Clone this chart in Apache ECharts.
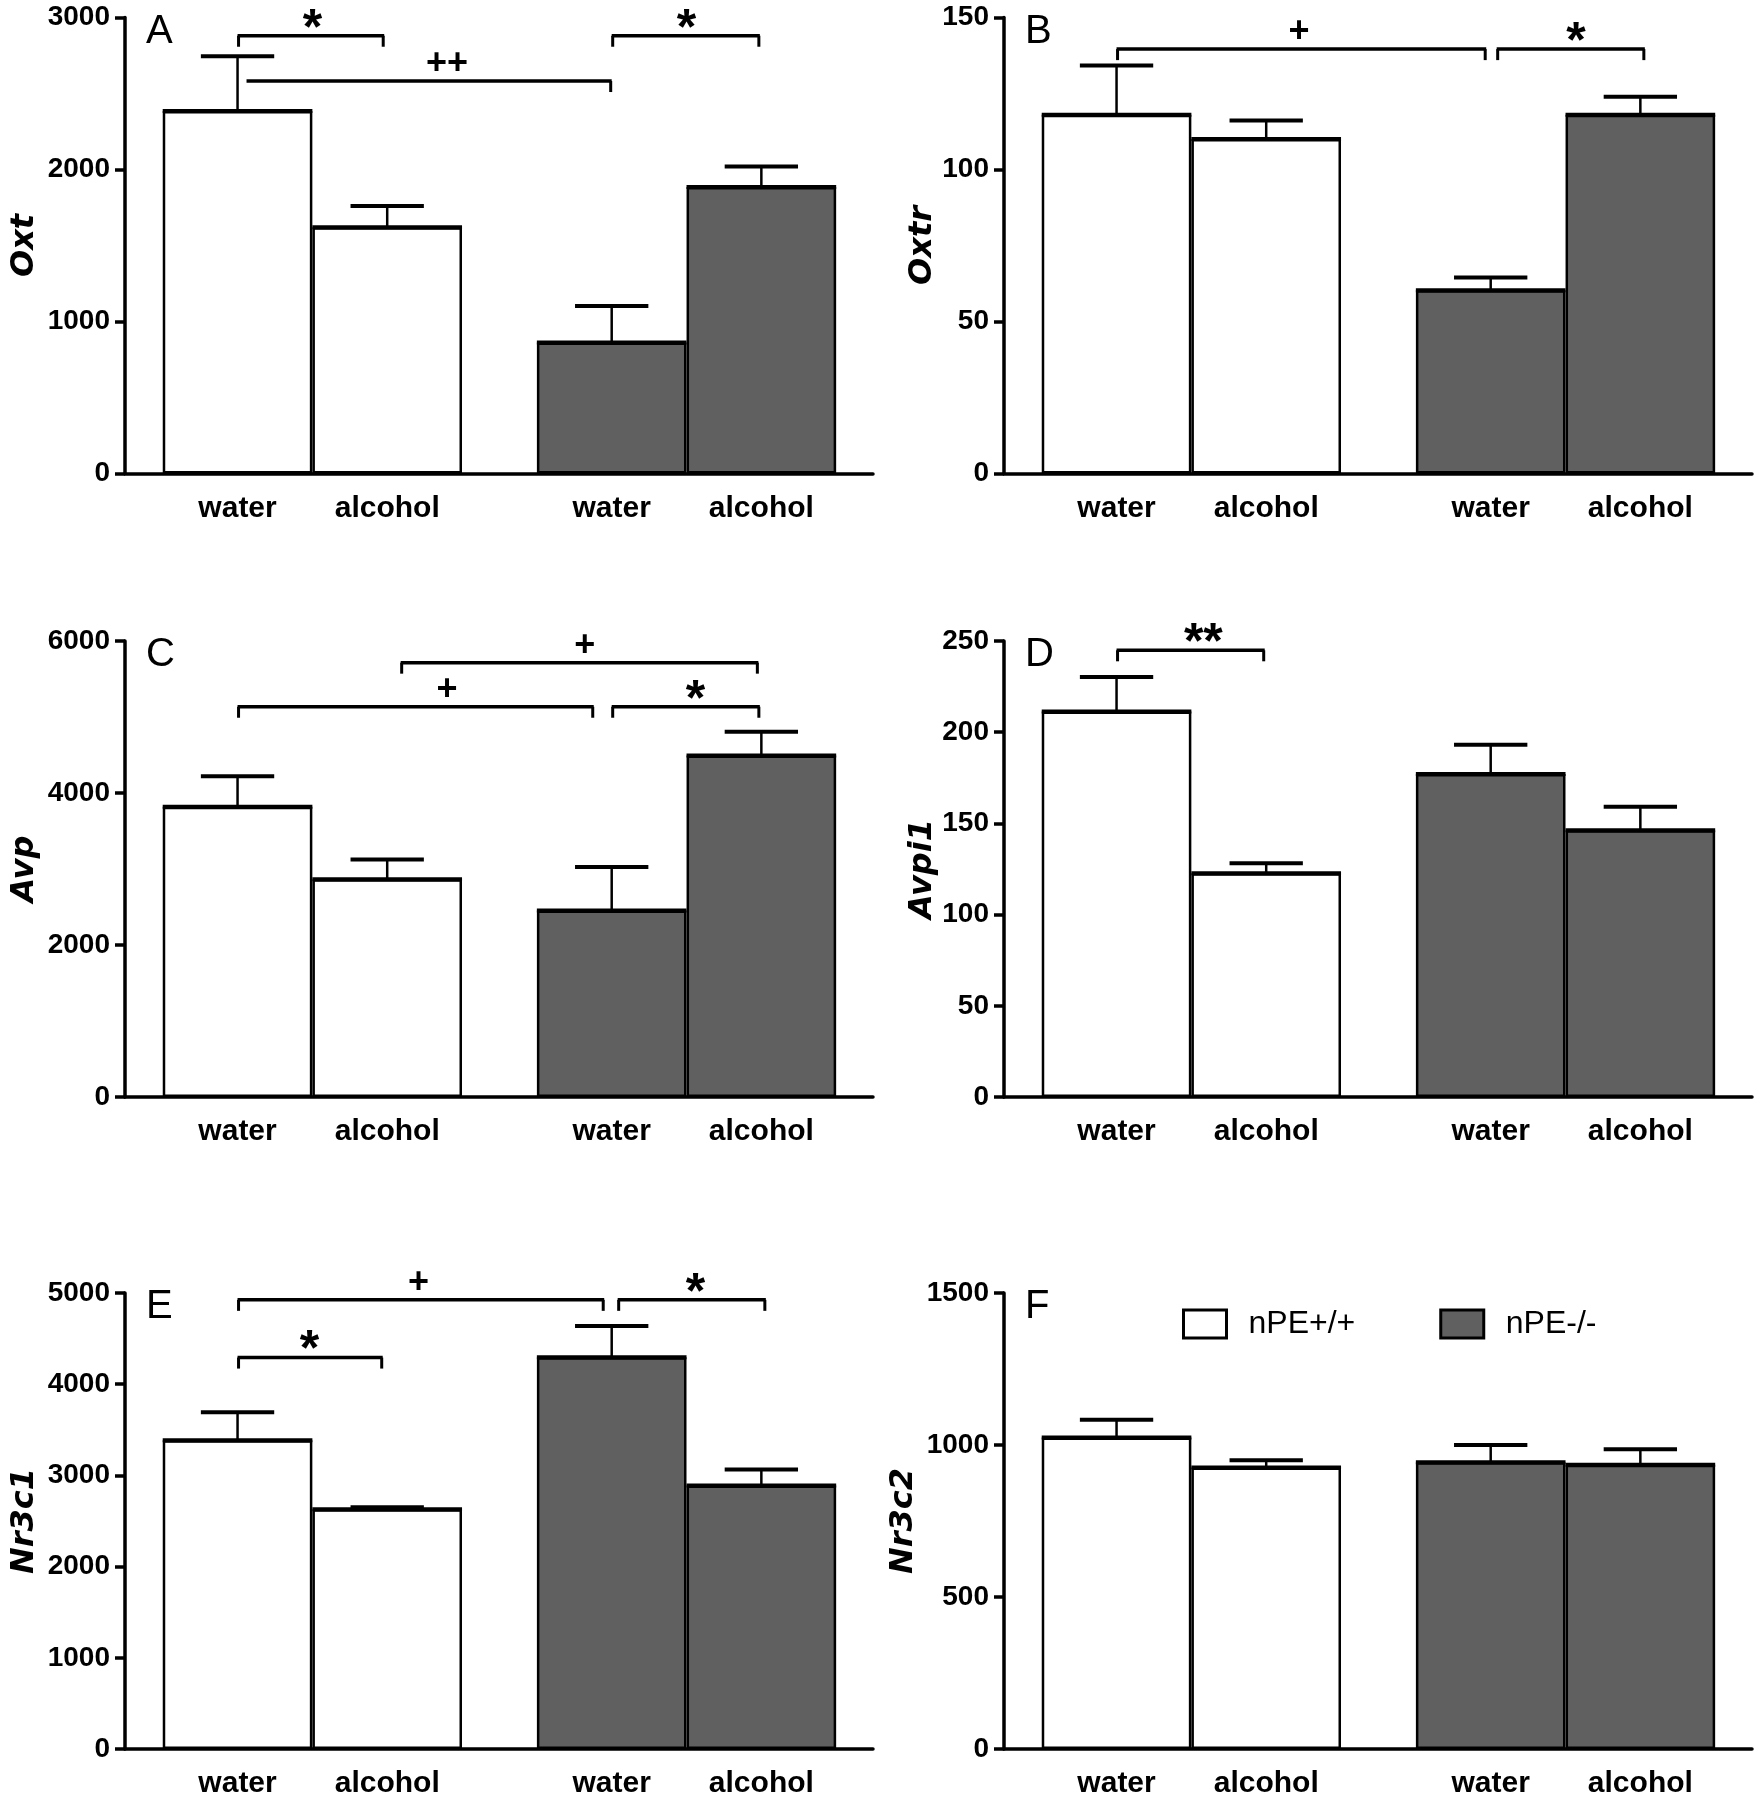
<!DOCTYPE html>
<html><head><meta charset="utf-8">
<script src="https://cdn.jsdelivr.net/npm/echarts@6/dist/echarts.min.js"></script>
<style>html,body{margin:0;padding:0;background:#fff}#c{width:1759px;height:1800px}</style>
</head><body><div id="c"></div>
<script>
// ---------- data ----------
const xLabels = ['water', 'alcohol', 'water', 'alcohol'];
const genes = ['Oxt', 'Oxtr', 'Avp', 'Avpi1', 'Nr3c1', 'Nr3c2'];
const panelLetters = ['A', 'B', 'C', 'D', 'E', 'F'];
const seriesNames = ['nPE+/+', 'nPE-/-'];
const yMax = [3000, 150, 6000, 250, 5000, 1500];
const yStep = [1000, 50, 2000, 50, 1000, 500];

const oxtMean = [2385, 1620, 862, 1885];     const oxtSem = [360, 140, 240, 135];
const oxtrMean = [118, 110, 60.3, 118];      const oxtrSem = [16.2, 6.1, 4.2, 5.9];
const avpMean = [3820, 2865, 2455, 4495];    const avpSem = [400, 260, 570, 310];
const avpi1Mean = [211.3, 122.7, 177.1, 146.3]; const avpi1Sem = [19, 5.5, 16, 12.8];
const nr3c1Mean = [3385, 2630, 4295, 2890];  const nr3c1Sem = [308, 20, 342, 176];
const nr3c2Mean = [1025, 926, 943, 935];     const nr3c2Sem = [58, 24, 57, 51];

// significance brackets: [from, to, level, labelAt, leftTick, rightTick]
const oxtBrackets = [[0, 0.98, 2880, 0.5, 1, 1], [2.5, 3.49, 2880, 3.0, 1, 1], [0.06, 2.5, 2582, 1.40, 0, 1]];
const oxtMarks = ['*', '*', '++'];
const oxtrBrackets = [[0, 2.47, 139.6, 1.22, 1, 1], [2.54, 3.53, 139.6, 3.07, 1, 1]];
const oxtrMarks = ['+', '*'];
const avpBrackets = [[1.09, 3.48, 5715, 2.32, 1, 1], [0, 2.38, 5135, 1.40, 1, 1], [2.5, 3.49, 5135, 3.06, 1, 1]];
const avpMarks = ['+', '+', '*'];
const avpi1Brackets = [[0, 0.99, 244.9, 0.58, 1, 1]];
const avpi1Marks = ['**'];
const nr3c1Brackets = [[0, 2.45, 4925, 1.21, 1, 1], [2.54, 3.53, 4925, 3.06, 1, 1], [0, 0.97, 4292, 0.48, 1, 1]];
const nr3c1Marks = ['+', '*', '*'];
const nr3c2Brackets = [];
const nr3c2Marks = [];

const means = [oxtMean, oxtrMean, avpMean, avpi1Mean, nr3c1Mean, nr3c2Mean];
const sems = [oxtSem, oxtrSem, avpSem, avpi1Sem, nr3c1Sem, nr3c2Sem];
const brackets = [oxtBrackets, oxtrBrackets, avpBrackets, avpi1Brackets, nr3c1Brackets, nr3c2Brackets];
const marks = [oxtMarks, oxtrMarks, avpMarks, avpi1Marks, nr3c1Marks, nr3c2Marks];

// ---------- layout / style ----------
const catPos = [0, 1, 2.5, 3.5];          // bar slots on the x scale (pairs with a gap)
const X_MIN = -0.752, X_MAX = 4.246;
const gridLeft = [125, 1004], gridWidth = [748, 748];
const gridTop = [17.5, 641, 1293], gridHeight = [456, 456, 456];
const nameGaps = [84, 61, 84, 53, 84, 84];
const GREY = '#606060';
const SANS = '"Liberation Sans",Arial,Helvetica,sans-serif';

const option = {
  animation: false,
  backgroundColor: '#fff',
  grid: [], xAxis: [], yAxis: [], series: [], title: [],
  legend: {
    data: seriesNames, left: 1182, top: 1308, padding: 0, itemWidth: 43, itemHeight: 28, itemGap: 84,
    icon: 'rect', itemStyle: { borderWidth: 3, borderColor: '#000' },
    textStyle: { fontSize: 32, fontFamily: SANS, color: '#000', padding: [0, 0, 0, 17] }
  }
};

for (let i = 0; i < 6; i++) {
  const col = i % 2, row = Math.floor(i / 2);
  option.grid.push({ left: gridLeft[col], width: gridWidth[col], top: gridTop[row], height: gridHeight[row], containLabel: false });
  option.title.push({
    text: panelLetters[i], left: gridLeft[col] + 21, top: gridTop[row] - 6, padding: 0,
    textStyle: { fontSize: 40, fontWeight: 'normal', fontFamily: SANS, color: '#000' }
  });
  option.xAxis.push({
    type: 'value', gridIndex: i, min: X_MIN, max: X_MAX,
    splitLine: { show: false }, axisTick: { show: false },
    axisLine: { onZero: false, lineStyle: { color: '#000', width: 3.5 } },
    axisLabel: {
      customValues: catPos, margin: 20, fontSize: 30, fontWeight: 'bold', fontFamily: SANS, color: '#000',
      formatter: v => { const k = catPos.indexOf(v); return k >= 0 ? xLabels[k] : ''; }
    }
  });
  option.yAxis.push({
    type: 'value', gridIndex: i, min: 0, max: yMax[i], interval: yStep[i],
    splitLine: { show: false },
    axisLine: { show: true, onZero: false, lineStyle: { color: '#000', width: 3.5 } },
    axisTick: { show: true, length: 10, lineStyle: { color: '#000', width: 3.5 } },
    axisLabel: { margin: 15, fontSize: 28, fontWeight: 'bold', fontFamily: SANS, color: '#000', formatter: v => String(v) },
    name: genes[i], nameLocation: 'middle', nameGap: nameGaps[i],
    nameTextStyle: { fontFamily: '"DejaVu Sans",Verdana,sans-serif', fontStyle: 'italic', fontWeight: 'bold', fontSize: 32, color: '#000' }
  });
  const m = means[i], s = sems[i];
  option.series.push({
    type: 'bar', name: seriesNames[0], xAxisIndex: i, yAxisIndex: i,
    data: [[catPos[0], m[0]], [catPos[1], m[1]]], barWidth: 149.6, barGap: '-100%',
    itemStyle: { color: '#ffffff', borderColor: '#000', borderWidth: 2.5 }
  });
  option.series.push({
    type: 'bar', name: seriesNames[1], xAxisIndex: i, yAxisIndex: i,
    data: [[catPos[2], m[2]], [catPos[3], m[3]]], barWidth: 149.6, barGap: '-100%',
    itemStyle: { color: GREY, borderColor: '#000', borderWidth: 2.5 }
  });
  // error bars (mean + SEM) with a heavier bar top edge
  option.series.push({
    type: 'custom', xAxisIndex: i, yAxisIndex: i, clip: false, z: 5,
    data: catPos.map((p, k) => [p, m[k], s[k]]),
    renderItem: (params, api) => {
      const x = api.value(0), mv = api.value(1), sv = api.value(2);
      const top = api.coord([x, mv + sv]), base = api.coord([x, mv]);
      const L = api.coord([x - 0.5, mv]), R = api.coord([x + 0.5, mv]);
      const capL = api.coord([x - 0.245, mv + sv]), capR = api.coord([x + 0.245, mv + sv]);
      return { type: 'group', children: [
        { type: 'line', shape: { x1: base[0], y1: base[1], x2: top[0], y2: top[1] }, style: { stroke: '#000', lineWidth: 2.5 } },
        { type: 'line', shape: { x1: capL[0], y1: capL[1], x2: capR[0], y2: capR[1] }, style: { stroke: '#000', lineWidth: 4 } },
        { type: 'line', shape: { x1: L[0], y1: L[1], x2: R[0], y2: R[1] }, style: { stroke: '#000', lineWidth: 4 } }
      ]};
    }
  });
  // significance brackets
  if (brackets[i].length) {
    const mk = marks[i];
    option.series.push({
      type: 'custom', xAxisIndex: i, yAxisIndex: i, clip: false, z: 6,
      data: brackets[i],
      renderItem: (params, api) => {
        const x1 = api.value(0), x2 = api.value(1), y = api.value(2), lx = api.value(3);
        const p1 = api.coord([x1, y]), p2 = api.coord([x2, y]), pl = api.coord([lx, y]);
        const kids = [{ type: 'line', shape: { x1: p1[0], y1: p1[1], x2: p2[0], y2: p2[1] }, style: { stroke: '#000', lineWidth: 3.5 } }];
        if (api.value(4)) kids.push({ type: 'line', shape: { x1: p1[0] + 1, y1: p1[1], x2: p1[0] + 1, y2: p1[1] + 11 }, style: { stroke: '#000', lineWidth: 3 } });
        if (api.value(5)) kids.push({ type: 'line', shape: { x1: p2[0] - 1, y1: p2[1], x2: p2[0] - 1, y2: p2[1] + 11 }, style: { stroke: '#000', lineWidth: 3 } });
        const t = mk[params.dataIndex];
        const star = t.indexOf('*') >= 0;
        kids.push({ type: 'text', x: pl[0], y: pl[1] + (star ? -6 : -17), style: {
          text: t, fill: '#000', align: 'center', verticalAlign: 'middle',
          font: (star ? 'bold 50px ' : 'bold 36px ') + SANS
        }});
        return { type: 'group', children: kids };
      }
    });
  }
}

const chart = echarts.init(document.getElementById('c'), null, { renderer: 'canvas' });
chart.setOption(option);
</script></body></html>
